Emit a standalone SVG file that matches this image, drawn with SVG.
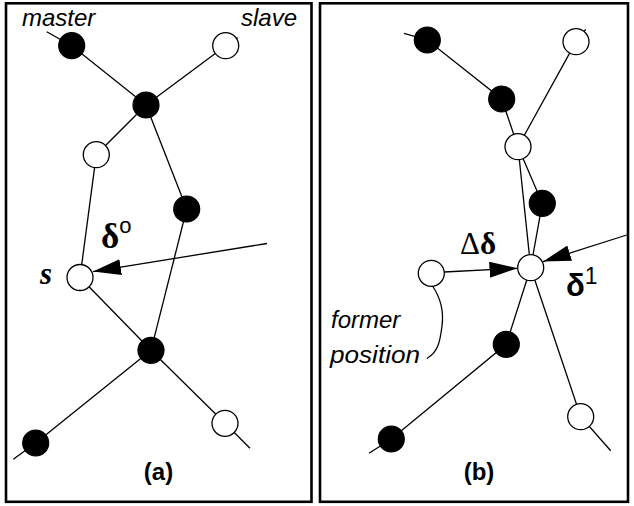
<svg xmlns="http://www.w3.org/2000/svg" width="634" height="506" viewBox="0 0 634 506">
<style>
.frame{fill:none;stroke:#000;stroke-width:2.6}
.ln{fill:none;stroke:#000;stroke-width:1.3}
.m{fill:#000;stroke:#000;stroke-width:1.2}
.s{fill:#fff;stroke:#000;stroke-width:1.3}
.lab{font-family:"Liberation Sans",Arial,sans-serif;font-style:italic;font-size:24px}
.cap{font-family:"Liberation Sans",Arial,sans-serif;font-weight:bold;font-size:24px;text-anchor:middle}
.gr{font-family:"Liberation Serif","Times New Roman",serif;font-weight:bold}
</style>
<defs>
<marker id="ah" viewBox="0 0 28 16" refX="28" refY="8" markerWidth="28" markerHeight="16" markerUnits="userSpaceOnUse" orient="auto">
<path d="M0,0 L28,8 L0,16 Z" fill="#000"/>
</marker>
</defs>
<rect class="frame" x="6" y="3.3" width="305.5" height="498.5"/>
<rect class="frame" x="320" y="3.3" width="308" height="498.5"/>
<g id="connectors">
<polyline class="ln" points="46.7,31.7 71.7,45.7 146,105"/>
<polyline class="ln" points="237.7,37.7 225.7,45.7 146,105"/>
<line class="ln" x1="146" y1="105" x2="96.3" y2="154.7"/>
<line class="ln" x1="146" y1="105" x2="186.7" y2="209"/>
<line class="ln" x1="96.3" y1="154.7" x2="80" y2="277.5"/>
<line class="ln" x1="186.7" y1="209" x2="151" y2="350.3"/>
<line class="ln" x1="80" y1="277.5" x2="151" y2="350.3"/>
<polyline class="ln" points="151,350.3 35.7,443 13.3,459.3"/>
<polyline class="ln" points="151,350.3 225,423.3 250,448.3"/>
<line class="ln" x1="267" y1="243.5" x2="93" y2="271.6" marker-end="url(#ah)"/>
<polyline class="ln" points="404,33.3 427.3,40 501.7,99 518,146.7"/>
<polyline class="ln" points="585.7,29.3 576,41.7 518,146.7"/>
<line class="ln" x1="518" y1="146.7" x2="530.7" y2="267.7"/>
<polyline class="ln" points="518,146.7 542.3,203.3 530.7,267.7"/>
<polyline class="ln" points="530.7,267.7 506.3,344.3 391.3,439 369,453.3"/>
<polyline class="ln" points="530.7,267.7 580.7,416.7 610.7,450.7"/>
<line class="ln" x1="444" y1="272" x2="517.5" y2="268.3" marker-end="url(#ah)"/>
<line class="ln" x1="626.7" y1="235" x2="543" y2="261.6" marker-end="url(#ah)"/>
<path class="ln" d="M432.5,286 C440,297 444,311 442,326 C440,342 438,352 427,358.5"/>
</g>
<g id="nodes-a">
<g id="a-master"><circle class="m" cx="71.7" cy="45.7" r="13"/></g>
<g id="a-slave"><circle class="s" cx="225.7" cy="45.7" r="13"/></g>
<g id="a-m1"><circle class="m" cx="146" cy="105" r="13"/></g>
<g id="a-s1"><circle class="s" cx="96.3" cy="154.7" r="13"/></g>
<g id="a-m2"><circle class="m" cx="186.7" cy="209" r="13"/></g>
<g id="a-s"><circle class="s" cx="80" cy="277.5" r="13"/></g>
<g id="a-m3"><circle class="m" cx="151" cy="350.3" r="13"/></g>
<g id="a-m4"><circle class="m" cx="35.7" cy="443" r="13"/></g>
<g id="a-s2"><circle class="s" cx="225" cy="423.3" r="13"/></g>
</g>
<g id="nodes-b">
<g id="b-m1"><circle class="m" cx="427.3" cy="40" r="13"/></g>
<g id="b-s1"><circle class="s" cx="576" cy="41.7" r="13"/></g>
<g id="b-m2"><circle class="m" cx="501.7" cy="99" r="13"/></g>
<g id="b-s2"><circle class="s" cx="518" cy="146.7" r="13"/></g>
<g id="b-m3"><circle class="m" cx="542.3" cy="203.3" r="13"/></g>
<g id="b-center"><circle class="s" cx="530.7" cy="267.7" r="13"/></g>
<g id="b-former"><circle class="s" cx="431.3" cy="273.3" r="13"/></g>
<g id="b-m4"><circle class="m" cx="506.3" cy="344.3" r="13"/></g>
<g id="b-m5"><circle class="m" cx="391.3" cy="439" r="13"/></g>
<g id="b-s3"><circle class="s" cx="580.7" cy="416.7" r="13"/></g>
</g>
<g id="labels">
<text class="lab" x="22" y="26">master</text>
<text class="lab" x="241" y="26">slave</text>
<text class="gr" x="101" y="248" font-size="35">δ<tspan font-family="'Liberation Sans',Arial,sans-serif" font-weight="normal" font-size="22" dy="-15">o</tspan></text>
<text class="gr" x="40" y="284" font-size="31" font-style="italic">s</text>
<text x="460" y="253.5" font-family="'Liberation Serif','Times New Roman',serif" font-size="31">Δ<tspan font-weight="bold">δ</tspan></text>
<text x="566" y="295.5" font-family="'Liberation Sans',Arial,sans-serif" font-weight="bold" font-size="31">δ<tspan font-weight="normal" font-size="23" dy="-12">1</tspan></text>
<text class="lab" x="331" y="328">former</text>
<text class="lab" x="330" y="363" textLength="90" lengthAdjust="spacingAndGlyphs">position</text>
<text class="cap" x="158.5" y="480">(a)</text>
<text class="cap" x="479" y="480">(b)</text>
</g>
</svg>
